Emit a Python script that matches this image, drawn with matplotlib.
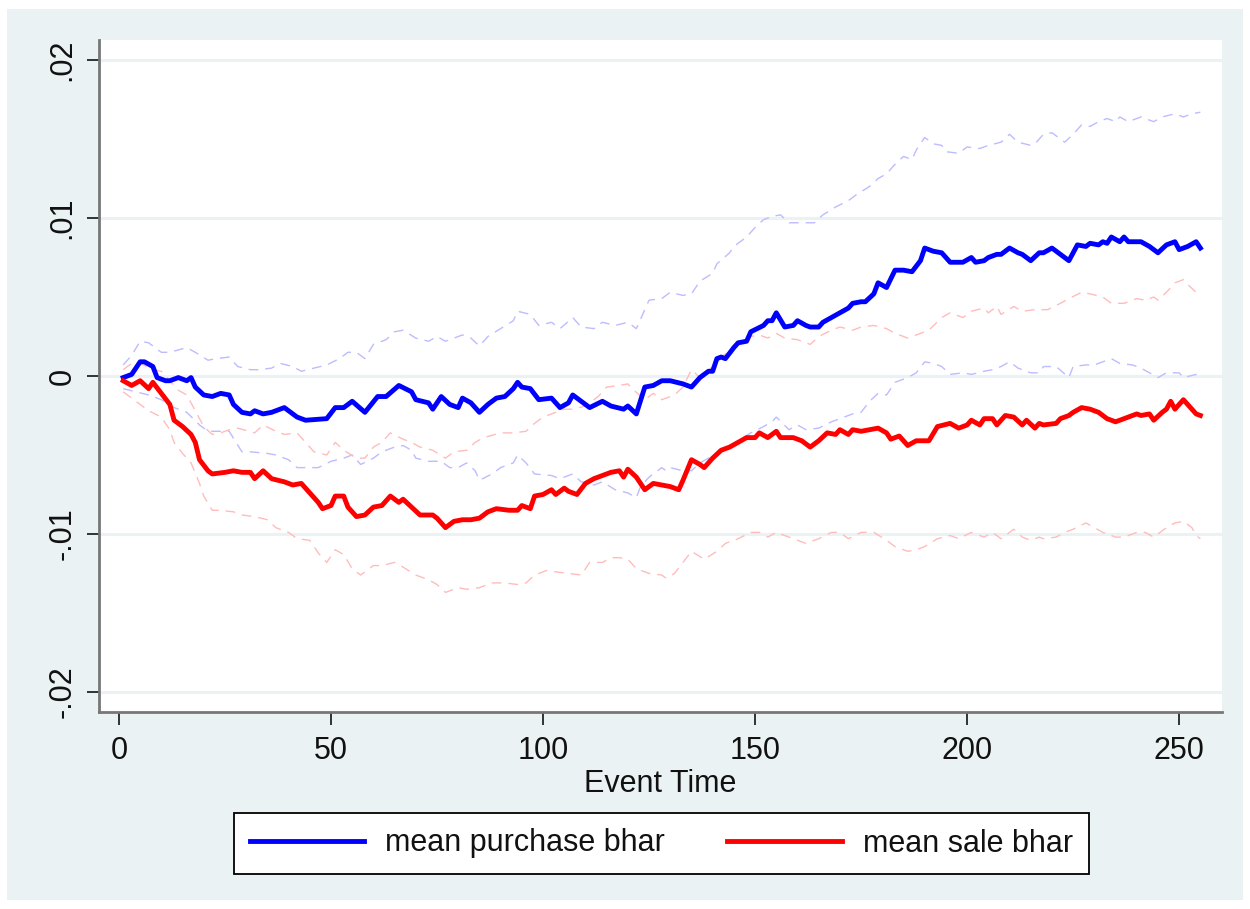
import matplotlib
matplotlib.use("Agg")
import matplotlib.pyplot as plt
from matplotlib.patches import Rectangle

# ---------------- data ----------------
pm_t = [1,3,5,6,8,9,11,12,14,16,17,18,20,22,24,26,27,29,31,32,34,36,39,41,42,44,49,51,53,55,58,61,63,66,69,70,73,74,76,78,80,81,83,85,87,89,91,93,94,95,97,99,102,104,106,107,109,111,114,116,119,120,122,124,126,128,130,133,135,137,139,140,141,142,143,145,146,148,149,152,153,154,155,157,159,160,162,163,165,166,168,170,172,173,175,176,178,179,181,183,185,187,189,190,192,194,196,198,199,201,202,204,205,207,208,210,212,213,215,217,218,220,221,224,225,226,228,229,231,232,233,234,236,237,238,240,241,243,245,247,249,250,252,254,255]
purchase_mean = [-0.0001,0.0001,0.0009,0.0009,0.0006,-0.0001,-0.0003,-0.0003,-0.0001,-0.0003,-0.0001,-0.0007,-0.0012,-0.0013,-0.0011,-0.0012,-0.0018,-0.0023,-0.0024,-0.0022,-0.0024,-0.0023,-0.0020,-0.0024,-0.0026,-0.0028,-0.0027,-0.0020,-0.0020,-0.0016,-0.0023,-0.0013,-0.0013,-0.0006,-0.0010,-0.0015,-0.0017,-0.0021,-0.0013,-0.0018,-0.0020,-0.0014,-0.0017,-0.0023,-0.0018,-0.0014,-0.0013,-0.0008,-0.0004,-0.0007,-0.0008,-0.0015,-0.0014,-0.0020,-0.0017,-0.0012,-0.0016,-0.0020,-0.0016,-0.0019,-0.0021,-0.0019,-0.0024,-0.0007,-0.0006,-0.0003,-0.0003,-0.0005,-0.0007,-0.0001,0.0003,0.0003,0.0011,0.0012,0.0011,0.0018,0.0021,0.0022,0.0028,0.0032,0.0035,0.0035,0.0040,0.0031,0.0032,0.0035,0.0032,0.0031,0.0031,0.0034,0.0037,0.0040,0.0043,0.0046,0.0047,0.0047,0.0052,0.0059,0.0056,0.0067,0.0067,0.0066,0.0073,0.0081,0.0079,0.0078,0.0072,0.0072,0.0072,0.0075,0.0072,0.0073,0.0075,0.0077,0.0077,0.0081,0.0078,0.0077,0.0073,0.0078,0.0078,0.0081,0.0079,0.0073,0.0078,0.0083,0.0082,0.0084,0.0083,0.0085,0.0084,0.0088,0.0085,0.0088,0.0085,0.0085,0.0085,0.0082,0.0078,0.0083,0.0085,0.0080,0.0082,0.0085,0.0081]

sm_t = [1,3,5,7,8,10,12,13,15,17,18,19,21,22,25,27,29,31,32,34,36,39,41,43,45,47,48,50,51,53,54,56,58,60,62,64,66,67,69,71,74,75,77,79,81,83,85,87,89,92,94,95,97,98,100,102,103,105,106,108,110,112,114,116,118,119,120,122,124,126,128,130,132,133,135,137,138,140,142,144,146,148,150,151,153,155,156,159,161,163,165,167,169,170,172,173,175,177,179,181,182,184,186,188,191,193,196,198,200,201,203,204,206,207,209,211,213,214,216,217,218,221,222,224,225,227,229,231,233,235,237,240,241,243,244,246,247,248,249,251,252,254,255]
sale_mean = [-0.0003,-0.0006,-0.0003,-0.0008,-0.0004,-0.0011,-0.0018,-0.0028,-0.0032,-0.0037,-0.0042,-0.0053,-0.0060,-0.0062,-0.0061,-0.0060,-0.0061,-0.0061,-0.0065,-0.0060,-0.0065,-0.0067,-0.0069,-0.0068,-0.0074,-0.0080,-0.0084,-0.0082,-0.0076,-0.0076,-0.0083,-0.0089,-0.0088,-0.0083,-0.0082,-0.0076,-0.0080,-0.0078,-0.0083,-0.0088,-0.0088,-0.0090,-0.0096,-0.0092,-0.0091,-0.0091,-0.0090,-0.0086,-0.0084,-0.0085,-0.0085,-0.0082,-0.0084,-0.0076,-0.0075,-0.0072,-0.0075,-0.0071,-0.0073,-0.0075,-0.0068,-0.0065,-0.0063,-0.0061,-0.0060,-0.0064,-0.0059,-0.0064,-0.0072,-0.0068,-0.0069,-0.0070,-0.0072,-0.0066,-0.0053,-0.0056,-0.0058,-0.0052,-0.0047,-0.0045,-0.0042,-0.0039,-0.0039,-0.0036,-0.0039,-0.0035,-0.0039,-0.0039,-0.0041,-0.0045,-0.0041,-0.0036,-0.0037,-0.0034,-0.0037,-0.0034,-0.0035,-0.0034,-0.0033,-0.0036,-0.0040,-0.0038,-0.0044,-0.0041,-0.0041,-0.0032,-0.0030,-0.0033,-0.0031,-0.0028,-0.0031,-0.0027,-0.0027,-0.0031,-0.0025,-0.0026,-0.0031,-0.0028,-0.0033,-0.0030,-0.0031,-0.0030,-0.0027,-0.0025,-0.0023,-0.0020,-0.0021,-0.0023,-0.0027,-0.0029,-0.0027,-0.0024,-0.0025,-0.0024,-0.0028,-0.0023,-0.0021,-0.0016,-0.0021,-0.0015,-0.0018,-0.0024,-0.0025]

pu_t = [1,3,5,7,10,12,16,18,21,23,26,28,31,33,36,38,41,43,46,49,52,54,56,58,60,63,65,67,70,73,75,77,81,83,85,87,90,93,94,97,99,102,104,107,109,112,114,117,120,122,124,125,128,130,133,135,137,140,141,144,145,148,150,152,154,156,158,161,164,166,169,172,173,174,177,179,181,183,185,187,188,190,192,194,195,198,200,203,205,208,210,212,215,216,218,220,223,225,227,229,231,233,235,236,238,241,244,246,249,251,253,255]
purchase_upper = [0.0007,0.0013,0.0022,0.0021,0.0015,0.0015,0.0018,0.0015,0.0010,0.0011,0.0012,0.0006,0.0004,0.0004,0.0005,0.0008,0.0006,0.0003,0.0005,0.0007,0.0011,0.0015,0.0015,0.0011,0.0020,0.0023,0.0028,0.0029,0.0024,0.0022,0.0025,0.0022,0.0026,0.0024,0.0019,0.0025,0.0030,0.0035,0.0041,0.0039,0.0032,0.0034,0.0030,0.0037,0.0031,0.0030,0.0034,0.0032,0.0034,0.0030,0.0042,0.0048,0.0049,0.0053,0.0051,0.0052,0.0060,0.0065,0.0071,0.0078,0.0082,0.0088,0.0094,0.0099,0.0101,0.0102,0.0097,0.0097,0.0097,0.0102,0.0107,0.0111,0.0113,0.0115,0.0120,0.0125,0.0128,0.0134,0.0139,0.0137,0.0143,0.0151,0.0147,0.0146,0.0142,0.0141,0.0145,0.0144,0.0146,0.0148,0.0153,0.0148,0.0146,0.0147,0.0153,0.0154,0.0148,0.0153,0.0159,0.0158,0.0161,0.0163,0.0161,0.0164,0.0161,0.0164,0.0161,0.0164,0.0166,0.0164,0.0166,0.0167]

pl_t = [1,4,7,10,13,16,19,21,26,29,31,35,37,40,42,45,47,50,53,55,57,60,62,65,67,69,70,73,76,78,80,82,84,85,88,90,93,94,96,98,102,104,107,109,112,114,117,120,122,123,125,128,129,130,133,135,137,139,141,144,146,149,152,154,155,158,160,162,165,168,170,172,173,175,177,179,181,183,186,188,190,192,194,196,199,201,204,206,208,210,212,215,217,218,221,224,225,228,230,232,234,236,239,241,243,245,247,250,251,254,255]
purchase_lower = [-0.0008,-0.0010,-0.0012,-0.0015,-0.0020,-0.0023,-0.0031,-0.0035,-0.0035,-0.0048,-0.0048,-0.0049,-0.0050,-0.0053,-0.0058,-0.0058,-0.0058,-0.0054,-0.0052,-0.0050,-0.0056,-0.0052,-0.0048,-0.0045,-0.0044,-0.0047,-0.0052,-0.0054,-0.0054,-0.0058,-0.0058,-0.0055,-0.0060,-0.0066,-0.0062,-0.0058,-0.0055,-0.0050,-0.0055,-0.0062,-0.0063,-0.0065,-0.0062,-0.0067,-0.0069,-0.0067,-0.0072,-0.0074,-0.0077,-0.0070,-0.0064,-0.0058,-0.0060,-0.0058,-0.0060,-0.0060,-0.0055,-0.0052,-0.0049,-0.0045,-0.0041,-0.0036,-0.0032,-0.0029,-0.0026,-0.0034,-0.0031,-0.0034,-0.0033,-0.0029,-0.0027,-0.0025,-0.0024,-0.0023,-0.0016,-0.0011,-0.0012,-0.0004,-0.0001,0.0002,0.0009,0.0008,0.0006,0.0001,0.0002,0.0001,0.0003,0.0004,0.0006,0.0009,0.0005,0.0002,0.0002,0.0006,0.0006,-0.0001,0.0006,0.0007,0.0007,0.0009,0.0011,0.0008,0.0007,0.0005,0.0002,-0.0001,0.0002,0.0002,-0.0001,0.0001,-0.0001]

su_t = [1,3,5,8,10,14,16,18,20,22,24,26,28,32,34,37,39,42,44,46,49,51,53,56,58,60,62,64,67,69,71,74,77,79,82,84,86,90,93,96,98,100,102,105,107,110,113,115,118,120,121,124,126,128,131,133,135,137,140,142,145,147,149,151,153,155,157,160,163,165,168,170,173,175,178,181,183,186,189,191,194,196,199,201,204,205,207,208,211,213,216,219,222,224,227,229,232,234,237,240,242,244,245,247,249,251,252,254,255]
sale_upper = [0.0004,0.0008,0.0008,0.0004,0.0003,-0.0009,-0.0012,-0.0022,-0.0032,-0.0037,-0.0036,-0.0034,-0.0033,-0.0036,-0.0031,-0.0035,-0.0037,-0.0036,-0.0042,-0.0048,-0.0050,-0.0042,-0.0047,-0.0052,-0.0052,-0.0045,-0.0042,-0.0036,-0.0040,-0.0042,-0.0045,-0.0047,-0.0052,-0.0048,-0.0047,-0.0042,-0.0039,-0.0036,-0.0036,-0.0035,-0.0030,-0.0026,-0.0024,-0.0021,-0.0021,-0.0019,-0.0013,-0.0007,-0.0006,-0.0005,-0.0008,-0.0015,-0.0011,-0.0015,-0.0012,-0.0007,0.0004,-0.0001,0.0006,0.0012,0.0018,0.0021,0.0025,0.0026,0.0024,0.0027,0.0024,0.0023,0.0020,0.0025,0.0029,0.0031,0.0029,0.0031,0.0032,0.0030,0.0027,0.0024,0.0027,0.0029,0.0037,0.0040,0.0037,0.0041,0.0043,0.0040,0.0044,0.0039,0.0044,0.0041,0.0042,0.0042,0.0046,0.0049,0.0053,0.0052,0.0050,0.0046,0.0046,0.0049,0.0048,0.0050,0.0048,0.0053,0.0059,0.0061,0.0058,0.0053,0.0052]

sl_t = [1,4,7,10,12,13,15,17,19,20,22,24,27,29,32,35,37,40,42,45,47,49,51,53,55,57,60,62,65,67,70,73,75,77,80,82,85,88,91,94,96,98,101,103,106,109,111,114,116,118,120,122,125,128,129,131,133,135,138,141,143,146,149,151,153,155,158,160,162,165,168,170,172,175,178,181,183,186,188,190,193,196,198,201,204,206,208,211,213,215,217,218,221,223,225,228,230,232,235,237,240,242,244,247,249,251,253,254,255]
sale_lower = [-0.0010,-0.0016,-0.0022,-0.0026,-0.0034,-0.0042,-0.0049,-0.0055,-0.0068,-0.0076,-0.0085,-0.0085,-0.0086,-0.0088,-0.0089,-0.0091,-0.0096,-0.0099,-0.0103,-0.0104,-0.0112,-0.0118,-0.0110,-0.0113,-0.0122,-0.0126,-0.0120,-0.0120,-0.0118,-0.0121,-0.0126,-0.0129,-0.0132,-0.0137,-0.0134,-0.0135,-0.0134,-0.0131,-0.0131,-0.0132,-0.0131,-0.0126,-0.0123,-0.0124,-0.0125,-0.0126,-0.0118,-0.0118,-0.0115,-0.0115,-0.0116,-0.0122,-0.0125,-0.0126,-0.0128,-0.0125,-0.0118,-0.0111,-0.0116,-0.0111,-0.0106,-0.0103,-0.0099,-0.0099,-0.0102,-0.0099,-0.0102,-0.0104,-0.0106,-0.0103,-0.0099,-0.0099,-0.0103,-0.0099,-0.0099,-0.0104,-0.0108,-0.0111,-0.0110,-0.0108,-0.0103,-0.0101,-0.0103,-0.0099,-0.0102,-0.0099,-0.0103,-0.0097,-0.0102,-0.0104,-0.0102,-0.0103,-0.0102,-0.0099,-0.0097,-0.0093,-0.0096,-0.0099,-0.0102,-0.0102,-0.0099,-0.0099,-0.0102,-0.0096,-0.0093,-0.0092,-0.0096,-0.0101,-0.0103]

x_ticks = [0, 50, 100, 150, 200, 250]
y_ticks = [-0.02, -0.01, 0.0, 0.01, 0.02]
y_tick_labels = ["-.02", "-.01", "0", ".01", ".02"]
legend_labels = ["mean purchase bhar", "mean sale bhar"]
x_label = "Event Time"

# ---------------- style ----------------
BG = "#EAF2F3"
plt.rcParams["font.family"] = ["Liberation Sans", "DejaVu Sans"]
FS = 22

fig = plt.figure(figsize=(12.5, 9.09), dpi=100, facecolor="white")
bg = Rectangle((7/1250, 9/909), (1243-7)/1250, (900-9)/909,
               transform=fig.transFigure, facecolor=BG, edgecolor="none")
bg.set_zorder(-10)
fig.add_artist(bg)

ax = fig.add_axes([99/1250, (909-712)/909, (1222-99)/1250, (712-40)/909])
ax.set_zorder(2)
ax.set_facecolor("white")
ax.set_xlim(-4.7, 260.1)
ax.set_ylim(-0.02127, 0.02127)

for yv in y_ticks:
    ax.axhline(yv, color=BG, lw=2.2, zorder=1)

dash = (7, 5)
ax.plot(pu_t, purchase_upper, color="#bcbcff", lw=1.0, dashes=dash, zorder=2)
ax.plot(pl_t, purchase_lower, color="#bcbcff", lw=1.0, dashes=dash, zorder=2)
ax.plot(su_t, sale_upper, color="#ffbcbc", lw=1.0, dashes=dash, zorder=2)
ax.plot(sl_t, sale_lower, color="#ffbcbc", lw=1.0, dashes=dash, zorder=2)

l1, = ax.plot(pm_t, purchase_mean, color="#0000ff", lw=3.5, zorder=3,
              solid_joinstyle="round")
l2, = ax.plot(sm_t, sale_mean, color="#ff0000", lw=3.5, zorder=3,
              solid_joinstyle="round")

for s in ["top", "right"]:
    ax.spines[s].set_visible(False)
for s in ["left", "bottom"]:
    ax.spines[s].set_color("#777777")
    ax.spines[s].set_linewidth(2.0)

ax.set_xticks(x_ticks)
ax.set_xticklabels([str(v) for v in x_ticks])
ax.set_yticks(y_ticks)
ax.set_yticklabels(y_tick_labels, rotation=90, va="center")
ax.tick_params(axis="both", direction="out", length=9, width=1.1,
               color="black", labelsize=FS, labelcolor="#111111")
ax.tick_params(axis="x", pad=8.5)
ax.tick_params(axis="y", pad=6.5)

ax.set_xlabel(x_label, fontsize=FS, color="#111111", labelpad=2)

leg = fig.legend([l1, l2], legend_labels, loc="center",
                 bbox_to_anchor=(661.5/1250, 1-843.5/909), ncol=2,
                 fontsize=FS, frameon=True, fancybox=False, shadow=False,
                 framealpha=1.0,
                 handlelength=3.76, handletextpad=0.69, columnspacing=2.03,
                 borderpad=0.5)
leg.get_frame().set_edgecolor("black")
leg.get_frame().set_linewidth(1.3)
leg.get_frame().set_facecolor("white")
leg.set_zorder(5)
for t in leg.get_texts():
    t.set_color("#111111")

fig.savefig("out.png", dpi=100, facecolor="white")
